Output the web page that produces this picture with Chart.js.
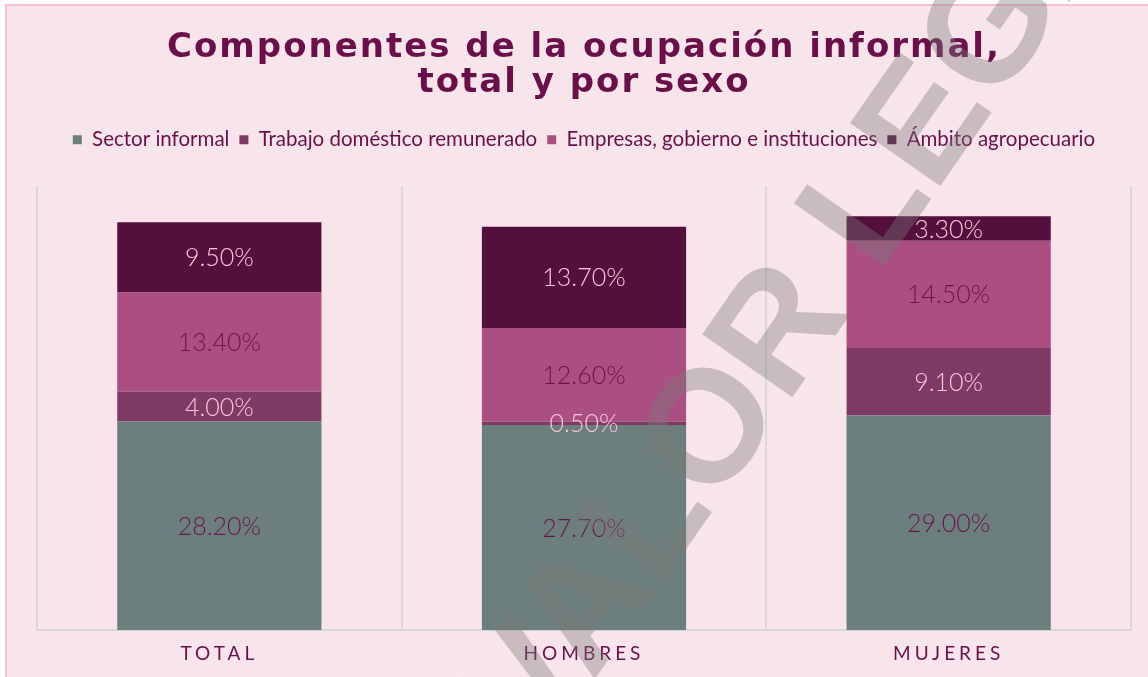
<!DOCTYPE html>
<html lang="es">
<head>
<meta charset="utf-8">
<title>Componentes de la ocupación informal</title>
<script src="https://cdn.jsdelivr.net/npm/chart.js@4.4.1/dist/chart.umd.min.js"></script>
<style>
  html, body { margin: 0; padding: 0; background: #ffffff; }
  #marco {
    position: absolute; left: 0; top: 0; width: 1148px; height: 677px; overflow: hidden;
  }
  #fondo {
    position: absolute; left: 5px; top: 4px; right: -10px; bottom: -10px;
    background: #f8e5ec; border-left: 2px solid #f9bfcf; border-top: 2px solid #f9bfcf;
  }
  #grafica { position: absolute; left: 0; top: 0; }
</style>
</head>
<body>
<div id="marco">
  <div id="fondo"></div>
  <canvas id="grafica" width="1148" height="677"></canvas>
</div>
<script>
// datos (porcentajes)
const categorias = ['TOTAL', 'HOMBRES', 'MUJERES'];
const sectorInformal = [28.2, 27.7, 29.0];
const trabajoDomestico = [4.0, 0.5, 9.1];
const empresasGobierno = [13.4, 12.6, 14.5];
const ambitoAgropecuario = [9.5, 13.7, 3.3];

const series = ['Sector informal', 'Trabajo doméstico remunerado', 'Empresas, gobierno e instituciones', 'Ámbito agropecuario'];
const colores = ['#6c7f7d', '#803a66', '#ab4f82', '#550f3c'];
const coloresEtiqueta = ['#6b1450', '#f9c6d6', '#6b1449', '#f8c8d8'];

const guinda = '#6b0f4b';

// etiquetas de valor centradas en cada segmento
const etiquetas = {
  id: 'etiquetas',
  afterDatasetsDraw(chart) {
    const ctx = chart.ctx;
    ctx.save();
    ctx.font = '300 25px Lato, sans-serif';
    ctx.textAlign = 'center';
    ctx.textBaseline = 'middle';
    chart.data.datasets.forEach((ds, i) => {
      const meta = chart.getDatasetMeta(i);
      meta.data.forEach((bar, j) => {
        const v = ds.data[j];
        ctx.fillStyle = coloresEtiqueta[i];
        ctx.fillText(v.toFixed(2) + '%', bar.x, (bar.y + bar.base) / 2 + 1);
      });
    });
    ctx.restore();
  }
};

// espaciado entre letras para título y categorías
const espaciado = {
  id: 'espaciado',
  afterUpdate(chart) {
    const x = chart.scales.x;
    if (x && !x._espaciado) {
      x._espaciado = true;
      x.drawLabels = function (area) {
        const prev = this.ctx.letterSpacing;
        this.ctx.letterSpacing = '4px';
        Object.getPrototypeOf(this).drawLabels.call(this, area);
        this.ctx.letterSpacing = prev;
      };
    }
    const t = chart.titleBlock;
    if (t && !t._espaciado) {
      t._espaciado = true;
      t.draw = function () {
        const prev = this.ctx.letterSpacing;
        this.ctx.letterSpacing = '2px';
        Object.getPrototypeOf(this).draw.call(this);
        this.ctx.letterSpacing = prev;
      };
    }
  }
};

// espacio extra bajo la leyenda
const espacioLeyenda = {
  id: 'espacioLeyenda',
  beforeInit(chart) {
    const fitOrig = chart.legend.fit;
    chart.legend.fit = function () {
      fitOrig.bind(chart.legend)();
      this.height += 26;
    };
  }
};

// marca de agua
const marcaAgua = {
  id: 'marcaAgua',
  afterDraw(chart) {
    const ctx = chart.ctx;
    ctx.save();
    ctx.font = 'bold 160px "Liberation Sans", Arial, sans-serif';
    ctx.fillStyle = 'rgba(122, 122, 122, 0.38)';
    ctx.textBaseline = 'middle';
    ctx.textAlign = 'left';
    const prefijo = ctx.measureText('SIN ').width;
    ctx.translate(502, 735);
    ctx.rotate(-55 * Math.PI / 180);
    ctx.fillText('SIN VALOR LEGAL', -prefijo, 0);
    ctx.restore();
  }
};

const ctx = document.getElementById('grafica');
new Chart(ctx, {
  type: 'bar',
  data: {
    labels: categorias,
    datasets: [
      { label: series[0], data: sectorInformal, backgroundColor: colores[0] },
      { label: series[1], data: trabajoDomestico, backgroundColor: colores[1] },
      { label: series[2], data: empresasGobierno, backgroundColor: colores[2] },
      { label: series[3], data: ambitoAgropecuario, backgroundColor: colores[3] }
    ]
  },
  options: {
    responsive: false,
    animation: false,
    devicePixelRatio: 1,
    barPercentage: 0.56,
    categoryPercentage: 1,
    layout: { padding: { left: 37, right: 17, top: 0, bottom: 0 } },
    scales: {
      x: {
        stacked: true,
        grid: { color: '#d9d6d8', lineWidth: 2, drawTicks: false },
        border: { color: '#d9d6d8', width: 2 },
        ticks: { color: guinda, padding: 12, font: { family: 'Lato, sans-serif', size: 19 } }
      },
      y: {
        stacked: true,
        display: false,
        min: 0,
        max: 60
      }
    },
    plugins: {
      title: {
        display: true,
        text: ['Componentes de la ocupación informal,', 'total y por sexo'],
        color: guinda,
        font: { family: '"DejaVu Sans", sans-serif', size: 34, weight: 'bold', lineHeight: 1.05 },
        padding: { top: 30, bottom: 18 }
      },
      legend: {
        position: 'top',
        labels: {
          color: guinda,
          boxWidth: 9,
          boxHeight: 9,
          padding: 10,
          font: { family: 'Lato, sans-serif', size: 20.5 }
        }
      },
      tooltip: { enabled: false }
    }
  },
  plugins: [etiquetas, espaciado, espacioLeyenda, marcaAgua]
});
</script>
</body>
</html>
